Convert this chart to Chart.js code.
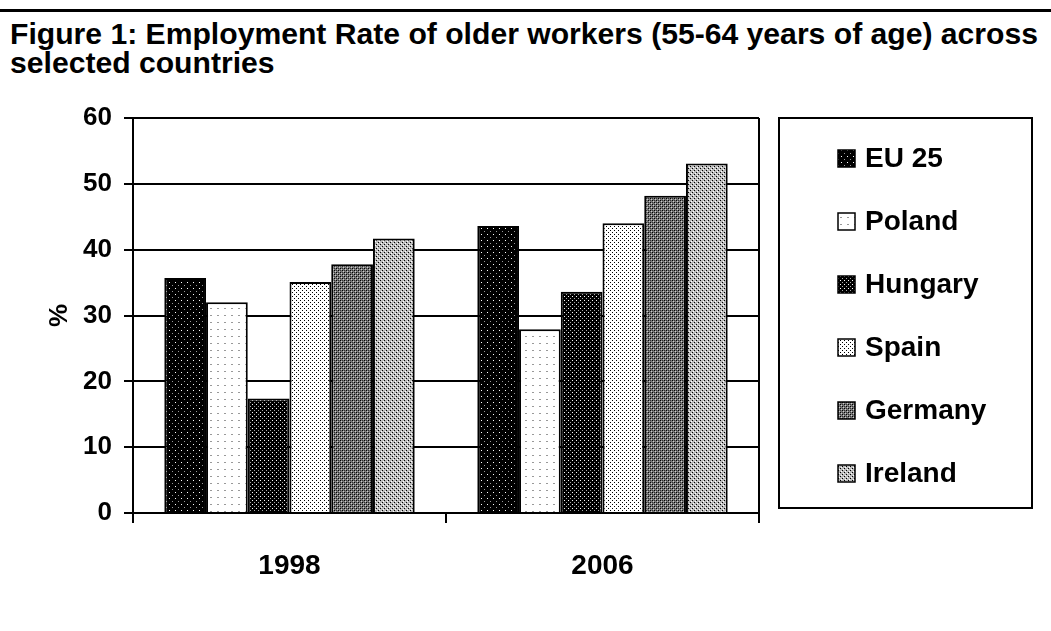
<!DOCTYPE html>
<html>
<head>
<meta charset="utf-8">
<script src="https://cdn.jsdelivr.net/npm/chart.js@4.4.0/dist/chart.umd.min.js"></script>
<style>
  html, body { margin: 0; padding: 0; background: #fff; }
  body { width: 1051px; height: 631px; position: relative; overflow: hidden; font-family: "Liberation Sans", Arial, sans-serif; }
  #rule { position: absolute; left: 0; top: 9px; width: 1051px; height: 3px; background: #000; }
  #title { position: absolute; left: 10px; top: 20px; font-weight: bold; font-size: 29px; line-height: 29px; color: #000; white-space: nowrap; transform-origin: 0 0; }
  #wrap { position: absolute; left: 0; top: 0; width: 1051px; height: 631px; }
</style>
</head>
<body>
<div id="rule"></div>
<div id="title"><span id="t1">Figure 1: Employment Rate of older workers (55-64 years of age) across</span><br><span>selected countries</span></div>
<div id="wrap"><canvas id="c" width="1051" height="631"></canvas></div>
<script>
// ---- data ----
const categories = ['1998', '2006'];
const seriesNames = ['EU 25', 'Poland', 'Hungary', 'Spain', 'Germany', 'Ireland'];
const eu25    = [35.7, 43.6];
const poland  = [32.0, 27.9];
const hungary = [17.4, 33.6];
const spain   = [35.1, 44.0];
const germany = [37.8, 48.2];
const ireland = [41.7, 53.1];
const yTicks  = [0, 10, 20, 30, 40, 50, 60];

// fit title width
(function(){
  const t = document.getElementById('title');
  const w = document.getElementById('t1').getBoundingClientRect().width;
  t.style.transform = 'scaleX(' + (1028 / w) + ')';
})();

// ---- patterns ----
function makePattern(size, base, pixels) {
  const c = document.createElement('canvas');
  c.width = size; c.height = size;
  const x = c.getContext('2d');
  x.fillStyle = base; x.fillRect(0, 0, size, size);
  pixels.forEach(p => { x.fillStyle = p[2]; x.fillRect(p[0], p[1], p[3] || 1, 1); });
  return document.getElementById('c').getContext('2d').createPattern(c, 'repeat');
}
const patterns = [
  makePattern(6, '#000', [[1,0,'#fff'],[4,3,'#999']]),
  makePattern(7, '#fff', [[0,0,'#999',2]]),
  makePattern(4, '#000', [[0,0,'#fff'],[2,2,'#aaa']]),
  makePattern(4, '#fff', [[0,0,'#000'],[2,2,'#000']]),
  makePattern(4, '#777', [[0,0,'#000'],[2,2,'#000'],[2,0,'#333'],[0,2,'#333'],[1,1,'#ccc'],[3,3,'#ccc']]),
  makePattern(4, '#bbb', [[0,0,'#000'],[2,2,'#000'],[1,3,'#fff'],[3,1,'#fff']])
];

const values = [eu25, poland, hungary, spain, germany, ireland];
const datasets = seriesNames.map((n, i) => ({
  label: n,
  data: values[i],
  backgroundColor: patterns[i],
  borderColor: '#000',
  borderWidth: 2,
  borderSkipped: 'start',
  categoryPercentage: 0.8,
  barPercentage: 1.0
}));

const FONT = '"Liberation Sans", Arial, sans-serif';

const frameAndLegend = {
  id: 'frameAndLegend',
  afterDatasetsDraw(chart) {
    const ctx = chart.ctx, a = chart.chartArea;
    ctx.save();
    ctx.strokeStyle = '#000';
    ctx.lineWidth = 2;
    ctx.beginPath();
    ctx.moveTo(a.right, a.top);
    ctx.lineTo(a.right, a.bottom);
    ctx.stroke();
    ctx.restore();
  },
  afterDraw(chart) {
    const ctx = chart.ctx, a = chart.chartArea;
    const boxL = a.right + 20, boxR = 1032, boxT = a.top, boxB = 508;
    ctx.save();
    ctx.strokeStyle = '#000';
    ctx.lineWidth = 2;
    ctx.strokeRect(boxL, boxT, boxR - boxL, boxB - boxT);
    ctx.font = 'bold 28px ' + FONT;
    ctx.textBaseline = 'middle';
    ctx.fillStyle = '#000';
    const step = 63;
    chart.data.datasets.forEach((ds, i) => {
      const cy = 158 + i * step;
      ctx.fillStyle = ds.backgroundColor;
      ctx.fillRect(838, cy - 8, 17, 17);
      ctx.lineWidth = 1.5;
      ctx.strokeStyle = '#000';
      ctx.strokeRect(838, cy - 8, 17, 17);
      ctx.fillStyle = '#000';
      ctx.fillText(ds.label, 865, cy + 1);
    });
    ctx.restore();
  }
};

new Chart(document.getElementById('c'), {
  type: 'bar',
  data: { labels: categories, datasets },
  plugins: [frameAndLegend],
  options: {
    responsive: false,
    animation: false,
    devicePixelRatio: 1,
    layout: { padding: { left: 0, top: 118, right: 292, bottom: 0 } },
    plugins: { legend: { display: false }, tooltip: { enabled: false }, title: { display: false } },
    scales: {
      x: {
        grid: { display: true, drawOnChartArea: false, drawTicks: true, tickLength: 10, offset: true, color: '#000', lineWidth: 2 },
        border: { display: true, color: '#000', width: 2 },
        ticks: { color: '#000', font: { family: FONT, size: 28, weight: 'bold' }, padding: 26 },
        afterFit(s) { s.height = 118; }
      },
      y: {
        min: 0, max: 60,
        afterBuildTicks(s) { s.ticks = yTicks.map(v => ({ value: v })); },
        grid: { color: '#000', lineWidth: 2, tickLength: 9, drawTicks: true },
        border: { display: true, color: '#000', width: 2 },
        ticks: { color: '#000', font: { family: FONT, size: 26, weight: 'bold' }, padding: 12 },
        title: { display: true, text: '%', color: '#000', font: { family: FONT, size: 26, weight: 'bold' }, padding: { top: 44, bottom: 0 } },
        afterFit(s) { s.width = 133; }
      }
    }
  }
});
</script>
</body>
</html>
